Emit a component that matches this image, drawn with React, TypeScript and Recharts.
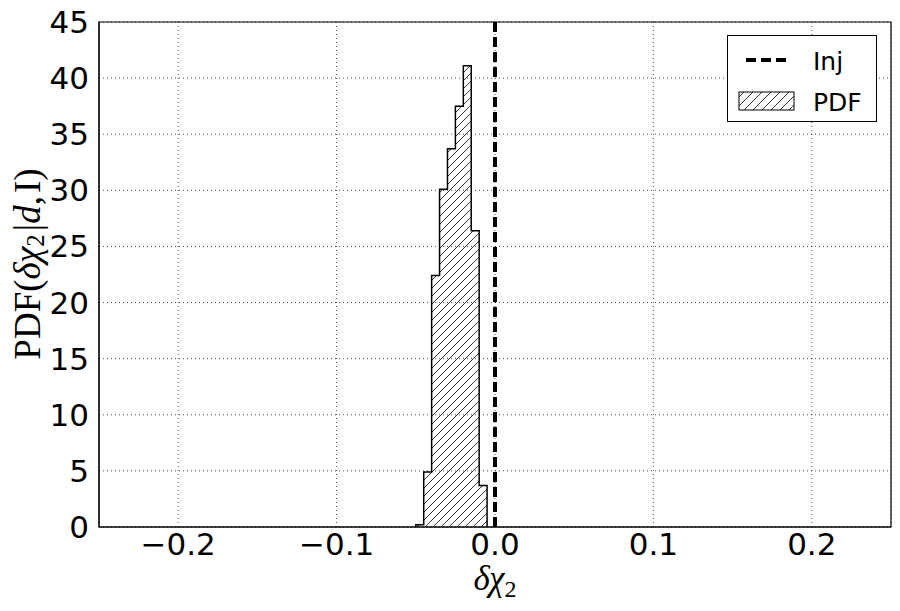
import React from "react";
import { ComposedChart, Area, XAxis, YAxis, CartesianGrid, ReferenceLine, ReferenceArea } from "recharts";

const binEdges = [-0.05, -0.045, -0.04, -0.035, -0.03, -0.025, -0.02, -0.015, -0.01, -0.005];
const pdfValues = [0.2, 4.9, 22.4, 30.1, 33.7, 37.5, 41.1, 26.4, 3.7];
const injValue = 0;
const xDomain = [-0.25, 0.25];
const yDomain = [0, 45];
const xTicks = [-0.2, -0.1, 0, 0.1, 0.2];
const yTicks = [0, 5, 10, 15, 20, 25, 30, 35, 40, 45];

// step outline points: start at baseline, one point per bin, drop back to baseline
const stepData = [
  { x: binEdges[0], y: 0 },
  ...pdfValues.map((v, i) => ({ x: binEdges[i], y: v })),
  { x: binEdges[binEdges.length - 1], y: 0 },
];

const fmt = (v: number) => v.toFixed(1).replace("-", "\u2212");

function LegendBox() {
  return (
    <div
      style={{
        position: "absolute",
        left: 727,
        top: 35,
        width: 148,
        height: 85,
        border: "1px solid #000",
        background: "#fff",
      }}
    >
      <svg width={148} height={85} style={{ position: "absolute", left: 0, top: 0 }}>
        <defs>
          <pattern id="hatchLegend" patternUnits="userSpaceOnUse" width={9} height={9}>
            <path d="M-2,2 l4,-4 M0,9 l9,-9 M7,11 l4,-4" stroke="#000" strokeWidth={0.8} />
          </pattern>
        </defs>
        <line x1={18} y1={24} x2={58} y2={24} stroke="#000" strokeWidth={4} strokeDasharray="10 5" />
        <rect x={11} y={56} width={55} height={18} fill="url(#hatchLegend)" stroke="#000" strokeWidth={1} />
        <text x={85} y={34} fontSize={25} fontFamily="DejaVu Sans">Inj</text>
        <text x={85} y={75} fontSize={25} fontFamily="DejaVu Sans">PDF</text>
      </svg>
    </div>
  );
}

const YLabel = () => (
  <text
    x={27}
    y={264}
    transform="rotate(-90 27 264)"
    textAnchor="middle"
    dominantBaseline="central"
    fontFamily="Liberation Serif"
    fontSize={37}
    fill="#000"
  >
    PDF(<tspan fontStyle="italic">δχ</tspan>
    <tspan fontSize={25} dy={8}>2</tspan>
    <tspan dy={-8} dx={3}>|</tspan>
    <tspan fontStyle="italic">d</tspan>,<tspan dx={3}>I)</tspan>
  </text>
);

const XLabel = () => (
  <text x={495} y={590} textAnchor="middle" fontFamily="Liberation Serif" fontSize={35} fill="#000">
    <tspan fontStyle="italic">δχ</tspan>
    <tspan fontSize={24} dy={7}>2</tspan>
  </text>
);

export default function App() {
  return (
    <div style={{ position: "absolute", left: 0, top: 0, width: 900, height: 611, background: "#fff" }}>
      <ComposedChart
        width={900}
        height={611}
        data={stepData}
        margin={{ top: 22, right: 9, left: 39, bottom: 44 }}
      >
        <defs>
          <pattern id="hatch" patternUnits="userSpaceOnUse" width={8} height={8}>
            <path d="M-2,2 l4,-4 M0,8 l8,-8 M6,10 l4,-4" stroke="#000" strokeWidth={0.8} />
          </pattern>
        </defs>
        <CartesianGrid stroke="#000" strokeWidth={0.7} strokeDasharray="1 3" />
        <XAxis
          dataKey="x"
          type="number"
          domain={xDomain}
          ticks={xTicks}
          tickFormatter={fmt}
          allowDataOverflow
          height={40}
          tickLine={false}
          axisLine={{ stroke: "#000", strokeWidth: 1 }}
          tick={{ fontSize: 31, fill: "#000", fontFamily: "DejaVu Sans" }}
          tickMargin={0}
        />
        <YAxis
          type="number"
          domain={yDomain}
          ticks={yTicks}
          width={60}
          tickLine={false}
          axisLine={{ stroke: "#000", strokeWidth: 1 }}
          tick={{ fontSize: 31, fill: "#000", fontFamily: "DejaVu Sans" }}
          tickMargin={4}
        />
        <Area
          dataKey="y"
          type="stepAfter"
          stroke="#000"
          strokeWidth={1.5}
          fill="url(#hatch)"
          fillOpacity={1}
          isAnimationActive={false}
          dot={false}
          activeDot={false}
        />
        <ReferenceLine x={injValue} stroke="#000" strokeWidth={4} strokeDasharray="10 5" />
        <ReferenceArea
          x1={xDomain[0]}
          x2={xDomain[1]}
          y1={yDomain[0]}
          y2={yDomain[1]}
          fill="none"
          stroke="#000"
          strokeWidth={1.2}
          strokeOpacity={1}
          ifOverflow="visible"
        />
        <YLabel />
        <XLabel />
      </ComposedChart>
      <LegendBox />
    </div>
  );
}
